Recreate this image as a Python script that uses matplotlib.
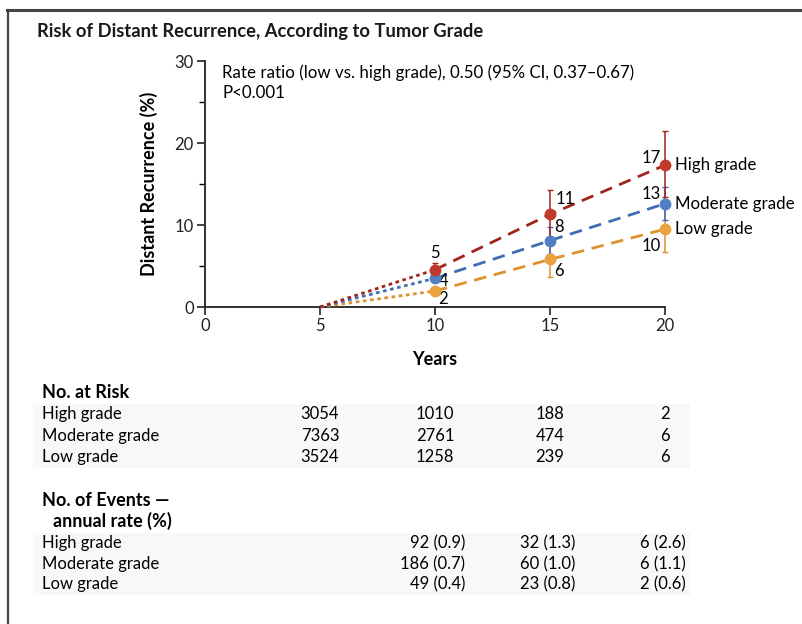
import matplotlib
matplotlib.use("Agg")
import matplotlib.pyplot as plt
from matplotlib.lines import Line2D
from matplotlib.patches import Rectangle
import matplotlib.font_manager as fm

# ---------------- data ----------------
years = [5, 10, 15, 20]
groups = ["High grade", "Moderate grade", "Low grade"]
high_vals = [0, 4.55, 11.3, 17.3]
mod_vals = [0, 3.5, 8.1, 12.6]
low_vals = [0, 1.95, 5.8, 9.5]
high_lo = [0, 3.8, 8.5, 13.4]
high_hi = [0, 5.4, 14.3, 21.5]
mod_lo = [0, 3.0, 6.5, 10.6]
mod_hi = [0, 4.1, 9.8, 14.6]
low_lo = [0, 1.5, 3.6, 6.7]
low_hi = [0, 2.5, 8.0, 12.3]
high_labels = ["5", "11", "17"]
mod_labels = ["4", "8", "13"]
low_labels = ["2", "6", "10"]

risk_years = [5, 10, 15, 20]
risk_high = [3054, 1010, 188, 2]
risk_mod = [7363, 2761, 474, 6]
risk_low = [3524, 1258, 239, 6]

event_years = [10, 15, 20]
events_high = ["92 (0.9)", "32 (1.3)", "6 (2.6)"]
events_mod = ["186 (0.7)", "60 (1.0)", "6 (1.1)"]
events_low = ["49 (0.4)", "23 (0.8)", "2 (0.6)"]

x_ticks = [0, 5, 10, 15, 20]
y_ticks = [0, 10, 20, 30]

# ---------------- style ----------------
avail = {f.name for f in fm.fontManager.ttflist}
main_font = "Lato" if "Lato" in avail else "DejaVu Sans"
plt.rcParams["font.family"] = [main_font, "DejaVu Sans"]

col_marker = {"High grade": "#c0392b", "Moderate grade": "#4f7fc4", "Low grade": "#eaa23c"}
col_line = {"High grade": "#a1241a", "Moderate grade": "#3f6cb3", "Low grade": "#de912c"}
text_col = "#1a1a1a"

fig = plt.figure(figsize=(8.03, 6.24), dpi=100)
W, H = 803, 624

# frame lines
fig.add_artist(Line2D([7 / W, 1.0], [1 - 9.5 / H, 1 - 9.5 / H], color="#444444", lw=2.2))
fig.add_artist(Line2D([8 / W, 8 / W], [0, 1 - 9.5 / H], color="#444444", lw=1.6))

fig.text(37 / W, 1 - 31 / H, "Risk of Distant Recurrence, According to Tumor Grade",
         fontsize=13.2, fontweight="bold", color=text_col, va="center", ha="left")

ax = fig.add_axes([205 / W, 1 - 307 / H, 460 / W, 246 / H])
ax.set_xlim(0, 20)
ax.set_ylim(0, 30)
for s in ["top", "right"]:
    ax.spines[s].set_visible(False)
for s in ["left", "bottom"]:
    ax.spines[s].set_linewidth(1.3)
    ax.spines[s].set_color("#222222")
ax.set_xticks(x_ticks)
ax.set_yticks(y_ticks)
ax.set_yticks([5, 15, 25], minor=True)
ax.tick_params(axis="both", which="major", length=6, width=1.2, labelsize=12, colors="#222222",
               pad=2)
ax.tick_params(axis="y", which="minor", length=4, width=1.0)
ax.set_xlabel("Years", fontsize=13, fontweight="bold", labelpad=12)
ax.set_ylabel("Distant Recurrence (%)", fontsize=13, fontweight="bold", labelpad=12)
ax.patch.set_alpha(0)

series = {
    "High grade": (high_vals, high_lo, high_hi, high_labels),
    "Moderate grade": (mod_vals, mod_lo, mod_hi, mod_labels),
    "Low grade": (low_vals, low_lo, low_hi, low_labels),
}

# error bars first (drawn beneath)
for g in ["Low grade", "Moderate grade", "High grade"]:
    v, lo, hi, _ = series[g]
    xs = years[1:]
    vv = v[1:]
    yerr = [[a - b for a, b in zip(vv, lo[1:])], [b - a for a, b in zip(vv, hi[1:])]]
    eb = ax.errorbar(xs, vv, yerr=yerr, fmt="none", ecolor=col_line[g], elinewidth=1.1,
                     capsize=2.0, capthick=1.0, zorder=2)
    for art in eb.lines[1] + eb.lines[2]:
        art.set_clip_on(False)

for g in ["Low grade", "Moderate grade", "High grade"]:
    v, lo, hi, _ = series[g]
    ax.plot(years[:2], v[:2], color=col_line[g], lw=2.0, ls=(0, (1.3, 1.3)), zorder=3,
            dash_capstyle="butt", clip_on=False)
    ax.plot(years[1:], v[1:], color=col_line[g], lw=2.0, ls=(0, (4.5, 2.8)), zorder=3,
            clip_on=False)
    ax.plot(years[1:], v[1:], ls="none", marker="o", ms=7.5, color=col_marker[g], zorder=4,
            clip_on=False)

# value labels
fs_val = 12
hv, mv, lv = high_vals, mod_vals, low_vals
ax.annotate(high_labels[0], (10, hv[1]), xytext=(0, 6), textcoords="offset points",
            ha="center", va="bottom", fontsize=fs_val)
ax.annotate(mod_labels[0], (10, mv[1]), xytext=(3, -2), textcoords="offset points",
            ha="left", va="center", fontsize=fs_val)
ax.annotate(low_labels[0], (10, lv[1]), xytext=(2, -6), textcoords="offset points",
            ha="left", va="center", fontsize=fs_val)
ax.annotate(high_labels[1], (15, hv[2]), xytext=(4, 11), textcoords="offset points",
            ha="left", va="center", fontsize=fs_val)
ax.annotate(mod_labels[1], (15, mv[2]), xytext=(3, 10), textcoords="offset points",
            ha="left", va="center", fontsize=fs_val)
ax.annotate(low_labels[1], (15, lv[2]), xytext=(3, -8), textcoords="offset points",
            ha="left", va="center", fontsize=fs_val)
ax.annotate(high_labels[2], (20, hv[3]), xytext=(-3, 5), textcoords="offset points",
            ha="right", va="center", fontsize=fs_val)
ax.annotate(mod_labels[2], (20, mv[3]), xytext=(-3, 7), textcoords="offset points",
            ha="right", va="center", fontsize=fs_val)
ax.annotate(low_labels[2], (20, lv[3]), xytext=(-3, -12), textcoords="offset points",
            ha="right", va="center", fontsize=fs_val)

# series names
for g, yv in zip(groups, [hv[3], mv[3], lv[3]]):
    ax.annotate(g, (20, yv), xytext=(7, 0), textcoords="offset points",
                ha="left", va="center", fontsize=12.2, annotation_clip=False)

ax.text(0.75, 29.6, "Rate ratio (low vs. high grade), 0.50 (95% CI, 0.37\u20130.67)\nP<0.001",
        fontsize=12.2, va="top", ha="left", linespacing=1.3)

# ---------------- tables ----------------
def data_x(xd):
    return (205 + xd * 23) / W

def fy(py):
    return 1 - py / H

tfs = 12
fig.text(42 / W, fy(393), "No. at Risk", fontsize=13, fontweight="bold", va="center")
rows_y = [414, 436, 457]
fig.add_artist(Rectangle((33 / W, fy(468)), (690 - 33) / W, (468 - 404) / H,
                         transform=fig.transFigure, facecolor="#f8f8f8", edgecolor="none", zorder=0))
fig.add_artist(Rectangle((33 / W, fy(595)), (690 - 33) / W, (595 - 533) / H,
                         transform=fig.transFigure, facecolor="#f8f8f8", edgecolor="none", zorder=0))
for g, ry, vals in zip(groups, rows_y, [risk_high, risk_mod, risk_low]):
    fig.text(42 / W, fy(ry), g, fontsize=tfs, va="center")
    for xv, n in zip(risk_years, vals):
        fig.text(data_x(xv), fy(ry), str(n), fontsize=tfs, va="center", ha="center")

fig.text(42 / W, fy(500), "No. of Events \u2014", fontsize=13, fontweight="bold", va="center")
fig.text(53 / W, fy(521), "annual rate (%)", fontsize=13, fontweight="bold", va="center")
ev_y = [543, 564, 584]
ev_right = [11.3, 16.1, 20.9]
for g, ry, vals in zip(groups, ev_y, [events_high, events_mod, events_low]):
    fig.text(42 / W, fy(ry), g, fontsize=tfs, va="center")
    for xr, s in zip(ev_right, vals):
        fig.text(data_x(xr), fy(ry), s, fontsize=tfs, va="center", ha="right")

fig.savefig("out.png", dpi=100, facecolor="white")
